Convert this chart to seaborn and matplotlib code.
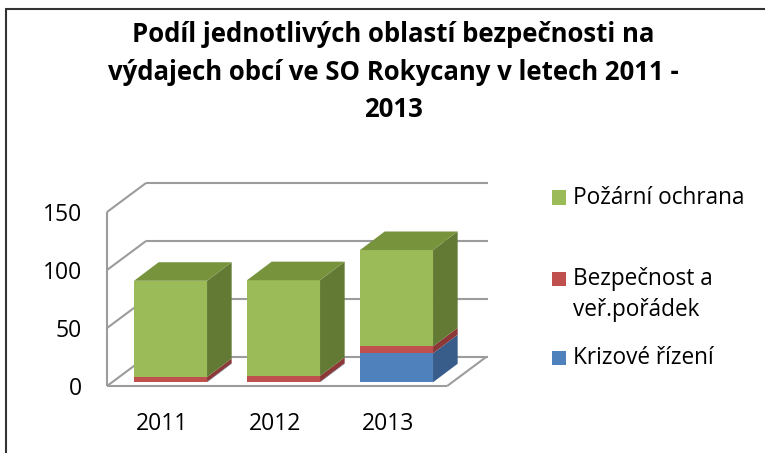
import matplotlib
matplotlib.use("Agg")
import matplotlib.pyplot as plt
import seaborn as sns
from matplotlib.patches import Polygon, Rectangle
from matplotlib.lines import Line2D

# ---- data ---------------------------------------------------------------
years = ["2011", "2012", "2013"]
krizove = [0.5, 0.5, 25]          # Krizové řízení
bezpecnost = [4, 5, 6]            # Bezpečnost a veř. pořádek
pozarni = [83, 82.5, 83]          # Požární ochrana
series_labels = ["Požární ochrana", "Bezpečnost a\nveř.pořádek", "Krizové řízení"]
y_ticks = [0, 50, 100, 150]
title_lines = ["Podíl jednotlivých oblastí bezpečnosti na",
               "výdajech obcí ve SO Rokycany v letech 2011 -",
               "2013"]

# ---- style --------------------------------------------------------------
front_colors = {"k": "#4F81BD", "b": "#C0504D", "p": "#9BBB59"}
side_colors = {"k": "#385D8A", "b": "#8C3836", "p": "#637A34"}
top_color = "#77933C"
grid_color = "#9C9C9C"

sns.set_theme(style="white")
plt.rcParams["font.family"] = ["Open Sans", "DejaVu Sans"]

W, H, DPI = 765, 453, 100
fig = plt.figure(figsize=(W / DPI, H / DPI), dpi=DPI)
fig.patch.set_facecolor("white")

# pseudo-3D geometry (category units on x, value units on y)
px_per_cat = 113.0
px_per_unit = 1.16
x_first = 162.4
y_zero = 386.0
xlim = (-0.49, 2.9)
ylim = (0, 178)
wall_dx, wall_dy = 39 / px_per_cat, 29 / px_per_unit
front_dx, front_dy = 0.072, 3.2
bar_dx, bar_dy = 0.218, 16.0
bar_w = 0.646
floor_x0, floor_x1 = -0.49, 2.52

left_px = x_first + xlim[0] * px_per_cat
right_px = x_first + xlim[1] * px_per_cat
top_px = y_zero - ylim[1] * px_per_unit
ax = fig.add_axes([left_px / W, (H - y_zero) / H,
                   (right_px - left_px) / W, (y_zero - top_px) / H])
ax.set_facecolor("none")

# stacked front faces: cumulative totals drawn back to front
c1 = list(krizove)
c2 = [a + b for a, b in zip(krizove, bezpecnost)]
c3 = [a + b + c for a, b, c in zip(krizove, bezpecnost, pozarni)]
for heights, key in [(c3, "p"), (c2, "b"), (c1, "k")]:
    sns.barplot(x=years, y=heights, color=front_colors[key], saturation=1,
                width=bar_w, linewidth=0, ax=ax, zorder=3)
for p in ax.patches:
    p.set_x(p.get_x() + front_dx)
    p.set_y(p.get_y() + front_dy)

# side and top faces
for i in range(len(years)):
    xl = i + front_dx - bar_w / 2
    xr = i + front_dx + bar_w / 2
    bottoms = [0, c1[i], c2[i]]
    tops = [c1[i], c2[i], c3[i]]
    for b, t, key in zip(bottoms, tops, ["k", "b", "p"]):
        b += front_dy
        t += front_dy
        ax.add_patch(Polygon([(xr, b), (xr + bar_dx, b + bar_dy),
                              (xr + bar_dx, t + bar_dy), (xr, t)],
                             closed=True, facecolor=side_colors[key],
                             edgecolor="none", zorder=3))
    t = c3[i] + front_dy
    ax.add_patch(Polygon([(xl, t), (xr, t), (xr + bar_dx, t + bar_dy),
                          (xl + bar_dx, t + bar_dy)], closed=True,
                         facecolor=top_color, edgecolor="none", zorder=3))

# walls and floor
lkw = dict(color=grid_color, lw=1.5, zorder=1, clip_on=False,
           solid_capstyle="butt")
ax.plot([floor_x0, floor_x0], [0, y_ticks[-1]], **lkw)
for v in y_ticks:
    ax.plot([floor_x0, floor_x0 + wall_dx], [v, v + wall_dy], **lkw)
    ax.plot([floor_x0 + wall_dx, floor_x1 + wall_dx + 0.02],
            [v + wall_dy, v + wall_dy], **lkw)
ax.plot([floor_x0, floor_x1], [0, 0], **lkw)
ax.plot([floor_x1, floor_x1 + wall_dx], [0, wall_dy], **lkw)

ax.set_xlim(*xlim)
ax.set_ylim(*ylim)
ax.set_yticks(y_ticks)
ax.set_yticklabels([str(v) for v in y_ticks])
ax.set_xlabel("")
ax.set_ylabel("")
for s in ax.spines.values():
    s.set_visible(False)
ax.tick_params(axis="y", length=0, pad=18, labelsize=16.5, labelcolor="black")
ax.tick_params(axis="x", length=0, pad=19, labelsize=16.5, labelcolor="black")
ax.grid(False)

# title, one text per line
for line, base in zip(title_lines, [42, 79.5, 117.3]):
    fig.text(393 / W, 1 - base / H, line, ha="center", va="baseline",
             fontsize=18.5, fontweight="bold", color="black")

# legend
legend_rows = [(series_labels[0], front_colors["p"], 197.5, [204.3]),
               (series_labels[1], front_colors["b"], 279, [285, 316.5]),
               (series_labels[2], front_colors["k"], 358, [364.3])]
for label, col, sq_y, bases in legend_rows:
    fig.add_artist(Rectangle((552 / W, 1 - (sq_y + 7) / H), 14 / W, 14 / H,
                             transform=fig.transFigure, facecolor=col,
                             edgecolor="none"))
    for part, base in zip(label.split("\n"), bases):
        fig.text(573 / W, 1 - base / H, part, ha="left", va="baseline",
                 fontsize=16.3, color="black")

# chart frame
fig.add_artist(Line2D([6 / W, 6 / W], [0, 1 - 9 / H], transform=fig.transFigure,
                      color="#333333", lw=1.5))
fig.add_artist(Line2D([6 / W, 1], [1 - 9 / H, 1 - 9 / H],
                      transform=fig.transFigure, color="#333333", lw=1.5))

fig.savefig("out.png", dpi=DPI)
